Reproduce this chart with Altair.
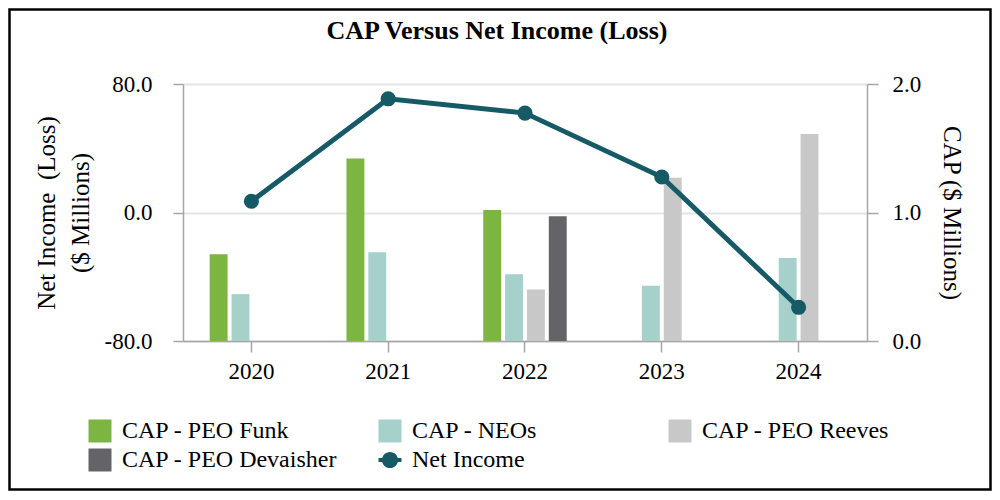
import altair as alt
import pandas as pd

years = ["2020", "2021", "2022", "2023", "2024"]
cap_funk = [0.676, 1.42, 1.02, None, None]
cap_neos = [0.365, 0.69, 0.52, 0.43, 0.645]
cap_reeves = [None, None, 0.40, 1.27, 1.61]
cap_devaisher = [None, None, 0.97, None, None]
net_income = [7.0, 70.8, 61.9, 22.1, -59.0]

bar_series = ["CAP - PEO Funk", "CAP - NEOs", "CAP - PEO Reeves", "CAP - PEO Devaisher"]
all_series = bar_series + ["Net Income"]
colors = ["#7db543", "#a6d0ca", "#c8c8c8", "#646368", "#165a66"]

rows = []
for name, vals in zip(bar_series, [cap_funk, cap_neos, cap_reeves, cap_devaisher]):
    for y, v in zip(years, vals):
        if v is not None:
            rows.append({"year": y, "series": name, "cap": v})
bars_df = pd.DataFrame(rows)
line_df = pd.DataFrame({"year": years, "net": net_income})
legend_df = pd.DataFrame({"series": all_series})

FONT = "Liberation Serif"
AXIS_GREY = "#a6a6a6"

rect_path = "M-1,-1H1V1H-1Z"
ni_path = "M0.7,0A0.7,0.7,0,1,1,-0.7,0A0.7,0.7,0,1,1,0.7,0Z M-1,-0.17H1V0.17H-1Z"
label_expr = "replace(format(datum.value, '.1f'), '\u2212', '-')"


def make_legend():
    return alt.Legend(
        title=None, orient="none", legendX=-95, legendY=335,
        direction="horizontal", columns=3, gridAlign="all",
        columnPadding=40, rowPadding=5, padding=0,
        labelFont=FONT, labelFontSize=24, labelColor="black",
        labelLimit=400, labelOffset=10,
        symbolSize=529, symbolStrokeWidth=0, symbolOpacity=1,
    )


color_scale = alt.Scale(domain=all_series, range=colors)

x_enc = alt.X("year:N", sort=years, title=None,
              scale=alt.Scale(paddingInner=0.39, paddingOuter=0.195),
              axis=alt.Axis(labelAngle=0, labelFont=FONT, labelFontSize=23, labelColor="black",
                            tickSize=11, tickColor=AXIS_GREY, tickWidth=1.5,
                            domainColor=AXIS_GREY, domainWidth=1.5, labelPadding=8, grid=False))

bars = alt.Chart(bars_df).mark_bar().encode(
    x=x_enc,
    xOffset=alt.XOffset("series:N", scale=alt.Scale(domain=bar_series, paddingInner=0.18, paddingOuter=0)),
    y=alt.Y("cap:Q", title="CAP ($ Millions)",
            scale=alt.Scale(domain=[0, 2]),
            axis=alt.Axis(orient="right", values=[0, 1, 2], labelExpr=label_expr, grid=False,
                          labelFont=FONT, labelFontSize=23, labelColor="black", labelPadding=14,
                          tickSize=11, tickColor=AXIS_GREY, tickWidth=1.5,
                          domainColor=AXIS_GREY, domainWidth=1.5,
                          titleFont=FONT, titleFontSize=25, titleFontWeight="normal",
                          titleColor="black", titlePadding=18)),
    color=alt.Color("series:N", scale=color_scale, legend=make_legend()),
)

line = alt.Chart(line_df).mark_line(
    color="#165a66", strokeWidth=5,
    point=alt.OverlayMarkDef(filled=True, size=230, color="#165a66", opacity=1),
).encode(
    x=alt.X("year:N", sort=years),
    y=alt.Y("net:Q", title=["Net Income\u00a0\u00a0(Loss)", "($ Millions)"],
            scale=alt.Scale(domain=[-80, 80]),
            axis=alt.Axis(orient="left", values=[-80, 0, 80], labelExpr=label_expr,
                          grid=True, gridColor="#e4e4e4", gridWidth=2,
                          labelFont=FONT, labelFontSize=23, labelColor="black", labelPadding=21,
                          tickSize=10, tickColor=AXIS_GREY, tickWidth=1.5,
                          domainColor=AXIS_GREY, domainWidth=1.5,
                          titleFont=FONT, titleFontSize=25, titleFontWeight="normal",
                          titleColor="black", titlePadding=11, titleLineHeight=34)),
)

legend_layer = alt.Chart(legend_df).mark_point(filled=True, size=0, strokeWidth=0).encode(
    color=alt.Color("series:N", scale=color_scale, legend=make_legend()),
    shape=alt.Shape("series:N",
                    scale=alt.Scale(domain=all_series, range=[rect_path] * 4 + [ni_path]),
                    legend=make_legend()),
)

frame = alt.Chart(pd.DataFrame({"k": [0]})).mark_rect(
    fill=None, stroke="black", strokeWidth=2.5
).encode(
    x=alt.value(-173.5), x2=alt.value(807.5), y=alt.value(-74.5), y2=alt.value(405.5)
)

chart = alt.layer(bars, line, legend_layer, frame).resolve_scale(y="independent").properties(
    width=684, height=257,
    autosize=alt.AutoSizeParams(type="none"),
    padding={"left": 175, "top": 76, "right": 125, "bottom": 151},
    title=alt.TitleParams("CAP Versus Net Income (Loss)", font=FONT, fontSize=26,
                          fontWeight="bold", color="black", anchor="middle", dx=-28, offset=-36),
).configure_view(stroke=None).configure(background="white")

chart.save("out.html", embed_options={"renderer": "svg", "actions": False})
